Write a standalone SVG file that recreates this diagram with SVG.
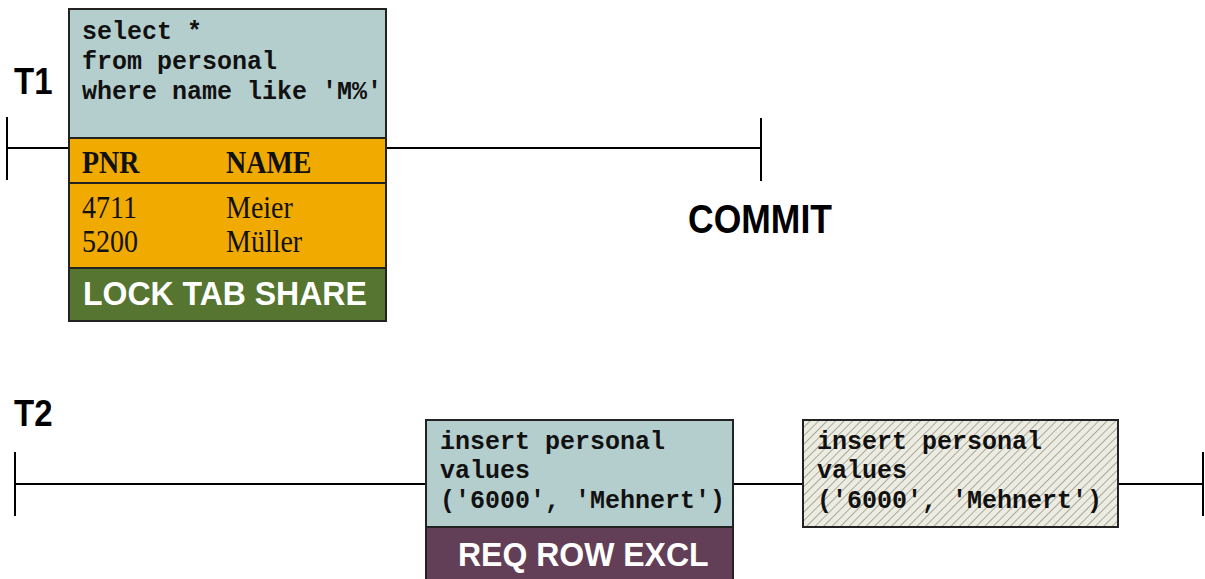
<svg xmlns="http://www.w3.org/2000/svg" width="1205" height="579" viewBox="0 0 1205 579">
<defs>
<style>
.code{font-family:"Liberation Mono","Courier New",monospace;font-weight:bold;font-size:25px;fill:#111}
.tm{font-family:"Liberation Serif","Times New Roman",serif;font-size:28px;fill:#111}
.lbl{font-family:"Liberation Sans",Arial,sans-serif;font-weight:bold;fill:#000}
.wlbl{font-family:"Liberation Sans",Arial,sans-serif;font-weight:bold;fill:#fff;font-size:32px}
.ln{stroke:#000;stroke-width:2;fill:none}
.box{stroke:#222;stroke-width:2}
</style>
<pattern id="hatch" width="6" height="6" patternUnits="userSpaceOnUse" patternTransform="rotate(45)">
<rect width="6" height="6" fill="#ecece2"/>
<line x1="0" y1="0" x2="0" y2="6" stroke="#a9a99a" stroke-width="2"/>
</pattern>
</defs>
<rect width="1205" height="579" fill="#fff"/>
<g id="connectors">
<line class="ln" x1="7" y1="148" x2="69" y2="148"/>
<line class="ln" x1="386" y1="148" x2="761" y2="148"/>
<line class="ln" x1="7" y1="117" x2="7" y2="180"/>
<line class="ln" x1="761" y1="118" x2="761" y2="181"/>
<line class="ln" x1="15" y1="484" x2="426" y2="484"/>
<line class="ln" x1="733" y1="484" x2="803" y2="484"/>
<line class="ln" x1="1119" y1="484" x2="1203" y2="484"/>
<line class="ln" x1="15" y1="452" x2="15" y2="516"/>
<line class="ln" x1="1203" y1="452" x2="1203" y2="516"/>
</g>
<g id="t1-label"><text class="lbl" transform="translate(14,94) scale(1,1.12)" font-size="33">T1</text></g>
<g id="t2-label"><text class="lbl" transform="translate(14,426) scale(1,1.12)" font-size="33">T2</text></g>
<g id="commit"><text class="lbl" transform="translate(688,233) scale(1,1.12)" font-size="35.5">COMMIT</text></g>
<g id="t1-box">
<rect class="box" x="69" y="9" width="317" height="129" fill="#b4cdcd"/>
<rect class="box" x="69" y="138" width="317" height="45" fill="#f0aa00"/>
<rect class="box" x="69" y="183" width="317" height="85" fill="#f0aa00"/>
<rect class="box" x="69" y="268" width="317" height="53" fill="#557530"/>
<text class="code" x="82" y="39">select *</text>
<text class="code" x="82" y="69">from personal</text>
<text class="code" x="82" y="99">where name like 'M%'</text>
<text class="tm" transform="translate(82,173) scale(1,1.1)" font-weight="bold">PNR</text>
<text class="tm" transform="translate(226,173) scale(1,1.1)" font-weight="bold">NAME</text>
<text class="tm" transform="translate(82,218) scale(1,1.1)">4711</text>
<text class="tm" transform="translate(226,218) scale(1,1.1)">Meier</text>
<text class="tm" transform="translate(82,252) scale(1,1.1)">5200</text>
<text class="tm" transform="translate(226,252) scale(1,1.1)">Müller</text>
<text class="wlbl" transform="translate(83,305) scale(1,1.05)">LOCK TAB SHARE</text>
</g>
<g id="t2-insert-req">
<rect class="box" x="426" y="420" width="307" height="107" fill="#b4cdcd"/>
<rect class="box" x="426" y="527" width="307" height="60" fill="#623f57"/>
<text class="code" x="440" y="449">insert personal</text>
<text class="code" x="440" y="478">values</text>
<text class="code" x="440" y="508">('6000', 'Mehnert')</text>
<text class="wlbl" transform="translate(458,566) scale(1,1.05)">REQ ROW EXCL</text>
</g>
<g id="t2-insert-done">
<rect class="box" x="803" y="420" width="315" height="107" fill="url(#hatch)"/>
<text class="code" x="817" y="449">insert personal</text>
<text class="code" x="817" y="478">values</text>
<text class="code" x="817" y="508">('6000', 'Mehnert')</text>
</g>
</svg>
